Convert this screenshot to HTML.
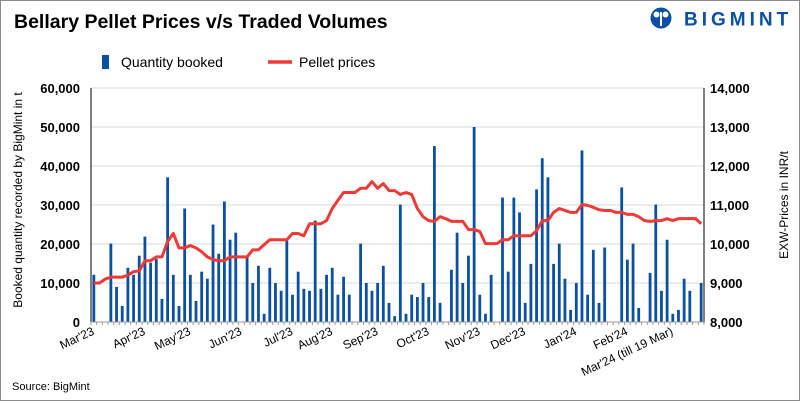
<!DOCTYPE html>
<html><head><meta charset="utf-8"><style>
html,body{margin:0;padding:0;background:#fff}
svg{display:block;font-family:"Liberation Sans",Arial,sans-serif}
</style></head><body>
<svg id="chart" width="800" height="401" viewBox="0 0 800 401">
<rect x="0.5" y="0.5" width="799" height="400" fill="#fff" stroke="#8c8c8c"/>
<text x="14" y="28" font-size="19.5" font-weight="bold" fill="#000">Bellary Pellet Prices v/s Traded Volumes</text>
<g>
<circle cx="661" cy="18" r="10.5" fill="#0d4ea6"/>
<circle cx="656.5" cy="14.5" r="3" fill="#fff"/><circle cx="665.5" cy="14.5" r="3" fill="#fff"/>
<rect x="660" y="12" width="2" height="14" fill="#fff"/>
<text x="684" y="25.5" font-size="19" font-weight="bold" fill="#0d4ea6" letter-spacing="4">BIGMINT</text>
</g>
<g>
<rect x="102" y="55" width="7" height="14" fill="#0b4fa3"/>
<text x="121" y="67" font-size="14" fill="#000">Quantity booked</text>
<line x1="268" y1="62" x2="292" y2="62" stroke="#ee3a36" stroke-width="3.5"/>
<text x="299" y="67" font-size="14" fill="#000">Pellet prices</text>
</g>
<g id="grid"></g>
<g id="bars"></g>
<g id="lineg"></g>
<g id="axes"></g>
<text transform="translate(22,200) rotate(-90)" text-anchor="middle" font-size="12" fill="#000">Booked quantity recorded by BigMint in t</text>
<text transform="translate(788,205) rotate(-90)" text-anchor="middle" font-size="12" fill="#000">EXW-Prices in INR/t</text>
<text x="12" y="390" font-size="11" fill="#000">Source: BigMint</text>
</svg>
<script>
const quantities=[12100,0,0,20100,9000,4100,13900,12100,17000,21900,15200,16200,5900,37100,12100,4100,29100,12100,5400,12900,11100,25000,17500,30900,21100,22900,0,16700,10000,14400,2100,13900,10000,8000,20900,7000,12900,8500,8000,26000,8500,12100,13900,7000,11600,7000,0,20100,10000,8000,10000,14400,4900,1500,30100,2100,7000,6400,10000,6400,45100,4900,0,13400,22900,10000,17000,50000,7000,2100,12100,0,31900,12900,31900,28100,4900,14900,34000,42000,37100,14900,20100,11100,3100,10000,44000,7000,18500,4900,19100,0,0,34500,16000,20100,3600,0,12600,30100,8000,21100,2100,3100,11100,8000,0,10000];
const prices=[9000,9000,9100,9150,9150,9150,9200,9290,9310,9570,9570,9670,9670,10060,10270,9900,9900,9960,9900,9800,9670,9600,9570,9570,9670,9670,9670,9670,9850,9850,9980,10110,10110,10110,10110,10270,10270,10210,10520,10520,10520,10600,10910,11120,11320,11320,11320,11430,11430,11600,11430,11550,11370,11370,11270,11320,11270,10910,10700,10600,10580,10700,10650,10580,10580,10580,10370,10370,10320,10010,10010,10010,10110,10110,10210,10210,10210,10210,10340,10600,10600,10810,10910,10860,10810,10810,11010,10990,10940,10880,10860,10860,10810,10810,10760,10760,10700,10600,10580,10600,10600,10650,10600,10650,10650,10650,10650,10520];
const leftTicks=[0,10000,20000,30000,40000,50000,60000];
const rightTicks=[8000,9000,10000,11000,12000,13000,14000];
const monthLabels=["Mar'23","Apr'23","May'23","Jun'23","Jul'23","Aug'23","Sep'23","Oct'23","Nov'23","Dec'23","Jan'24","Feb'24","Mar'24 (till 19 Mar)"];
const monthStart=[0,9,17,26,35,42,50,59,68,76,85,94,102];
const NS="http://www.w3.org/2000/svg";
const X0=91,X1=704,Y0=322,Y1=88,N=quantities.length,SW=(X1-X0)/N;
const xc=i=>X0+(i+0.5)*SW;
const yL=v=>Y0-v/60000*(Y0-Y1);
const yR=v=>Y0-(v-8000)/6000*(Y0-Y1);
function mk(tag,attrs,parent,text){const e=document.createElementNS(NS,tag);for(const k in attrs)e.setAttribute(k,attrs[k]);if(text!==undefined)e.textContent=text;parent.appendChild(e);return e;}
const grid=document.getElementById('grid'),axes=document.getElementById('axes'),bars=document.getElementById('bars'),lg=document.getElementById('lineg');
leftTicks.forEach((t,k)=>{
 if(t>0){const g=mk('line',{x1:X0,x2:X1,y1:yL(t),y2:yL(t),stroke:'#d9d9d9','stroke-width':1},grid);
 
 }
 const l=mk('text',{x:80,y:yL(t)+5,'text-anchor':'end','font-size':13,'font-weight':'bold',fill:'#000'},axes,t.toLocaleString('en-US'));
 
 
});
rightTicks.forEach(t=>{
 const l=mk('text',{x:710,y:yR(t)+5,'font-size':13,'font-weight':'bold',fill:'#000'},axes,t.toLocaleString('en-US'));
 
 
});
quantities.forEach((v,i)=>{
 if(v<=0)return;
 const b=mk('rect',{x:xc(i)-1.4,y:yL(v),width:2.8,height:Y0-yL(v),fill:'#0b4fa3'},bars);
 
 
});
const pl=mk('polyline',{points:prices.map((p,i)=>xc(i)+','+yR(p)).join(' '),fill:'none',stroke:'#ee3a36','stroke-width':3,'stroke-linejoin':'round'},lg);


const a1=mk('line',{x1:X0,x2:X0,y1:Y1,y2:Y0,stroke:'#000','stroke-width':1},axes);


const a2=mk('line',{x1:X1,x2:X1,y1:Y1,y2:Y0,stroke:'#000','stroke-width':1},axes);


const a3=mk('line',{x1:X0,x2:X1,y1:Y0,y2:Y0,stroke:'#999','stroke-width':1},axes);


for(let i=0;i<=N;i++){const t=mk('line',{x1:X0+i*SW,x2:X0+i*SW,y1:Y0,y2:Y0+3,stroke:'#999','stroke-width':1},axes);
 
 }
monthLabels.forEach((m,k)=>{
 const x=X0+monthStart[k]*SW+4,y=334;
 const l=mk('text',{x:x,y:y,'text-anchor':'end','font-size':12,fill:'#000',transform:`rotate(-25 ${x} ${y})`},axes,m);
 
 
});
</script>
</body></html>
